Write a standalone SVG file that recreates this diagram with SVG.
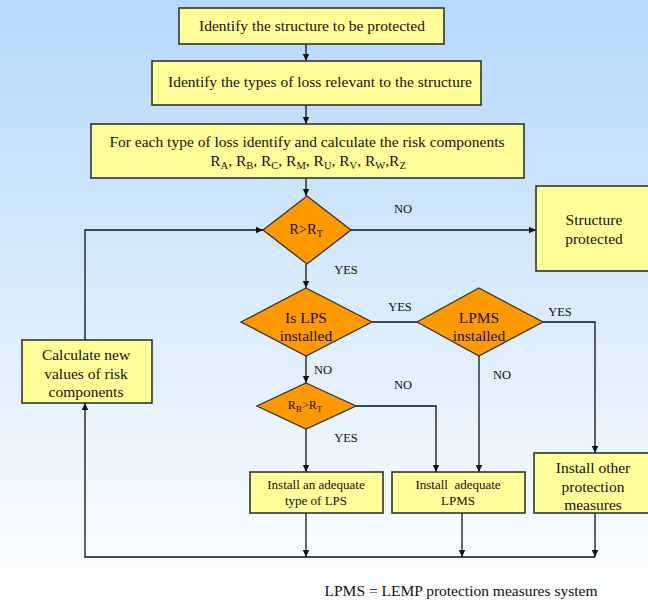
<svg xmlns="http://www.w3.org/2000/svg" width="648" height="602" viewBox="0 0 648 602">
<defs>
<linearGradient id="bg" x1="0" y1="0" x2="0" y2="1">
<stop offset="0" stop-color="#b5d9fb"/>
<stop offset="0.55" stop-color="#ddeefc"/>
<stop offset="1" stop-color="#ffffff"/>
</linearGradient>
<marker id="arr" markerWidth="8" markerHeight="8" refX="7" refY="4" orient="auto" markerUnits="userSpaceOnUse">
<path d="M0,0.8 L7,4 L0,7.2 Z" fill="#111"/>
</marker>
<style>
.box{fill:#ffff99;stroke:#333;stroke-width:1.6}
.dia{fill:#ff9900;stroke:#333;stroke-width:1.3}
.t{fill:#111;text-anchor:middle}
.lbl{fill:#111;font-size:12.5px;text-anchor:middle}
.c{fill:none;stroke:#111;stroke-width:1.3}
.ca{fill:none;stroke:#111;stroke-width:1.3;marker-end:url(#arr)}
</style>
</defs>
<rect x="0" y="0" width="648" height="602" fill="url(#bg)"/>

<g id="connectors">
<line class="ca" x1="306" y1="44" x2="306" y2="61"/>
<line class="ca" x1="306" y1="105" x2="306" y2="124"/>
<line class="ca" x1="306" y1="178" x2="306" y2="196"/>
<line class="ca" x1="351" y1="230" x2="536" y2="230"/>
<line class="ca" x1="306" y1="264" x2="306" y2="288"/>
<line class="c" x1="372" y1="322" x2="417" y2="322"/>
<polyline class="ca" points="543,322 595,322 595,453"/>
<line class="ca" x1="306" y1="356" x2="306" y2="383"/>
<polyline class="ca" points="356,406 436,406 436,472"/>
<line class="ca" x1="479" y1="356" x2="479" y2="472"/>
<line class="ca" x1="306" y1="429" x2="306" y2="472"/>
<line class="ca" x1="306" y1="513" x2="306" y2="557"/>
<line class="ca" x1="462" y1="513" x2="462" y2="557"/>
<line class="ca" x1="595" y1="513" x2="595" y2="557"/>
<polyline class="ca" points="595,557 85,557 85,403"/>
<polyline class="ca" points="85,340 85,230 263,230"/>
</g>

<g id="labels" font-family="Liberation Serif, Times New Roman, serif">
<text class="lbl" x="403" y="213">NO</text>
<text class="lbl" x="346" y="274">YES</text>
<text class="lbl" x="400" y="311">YES</text>
<text class="lbl" x="560" y="316">YES</text>
<text class="lbl" x="323" y="374">NO</text>
<text class="lbl" x="403" y="389">NO</text>
<text class="lbl" x="502" y="379">NO</text>
<text class="lbl" x="346" y="442">YES</text>
</g>

<g font-family="Liberation Serif, Times New Roman, serif">
<g id="n1">
<rect class="box" x="179" y="8" width="265" height="36"/>
<text class="t" x="312" y="31" font-size="15.5">Identify the structure to be protected</text>
</g>

<g id="n2">
<rect class="box" x="152" y="61" width="329" height="44"/>
<text class="t" x="320" y="87" font-size="15.5">Identify the types of loss relevant to the structure</text>
</g>

<g id="n3">
<rect class="box" x="91" y="124" width="433" height="54"/>
<text class="t" x="307" y="147" font-size="15.5">For each type of loss identify and calculate the risk components</text>
<text class="t" x="308" y="166" font-size="15.5">R<tspan font-size="10.5" dy="3">A</tspan><tspan dy="-3">, R</tspan><tspan font-size="10.5" dy="3">B</tspan><tspan dy="-3">, R</tspan><tspan font-size="10.5" dy="3">C</tspan><tspan dy="-3">, R</tspan><tspan font-size="10.5" dy="3">M</tspan><tspan dy="-3">, R</tspan><tspan font-size="10.5" dy="3">U</tspan><tspan dy="-3">, R</tspan><tspan font-size="10.5" dy="3">V</tspan><tspan dy="-3">, R</tspan><tspan font-size="10.5" dy="3">W</tspan><tspan dy="-3">,R</tspan><tspan font-size="10.5" dy="3">Z</tspan></text>
</g>

<g id="d1">
<polygon class="dia" points="307,196 351,230 307,264 263,230"/>
<text class="t" x="306" y="234" font-size="14.5">R&gt;R<tspan font-size="10" dy="3">T</tspan></text>
</g>

<g id="n4">
<rect class="box" x="536" y="186" width="116" height="85"/>
<text class="t" x="594" y="225" font-size="15.5">Structure</text>
<text class="t" x="594" y="244" font-size="15.5">protected</text>
</g>

<g id="d2">
<polygon class="dia" points="306,288 372,322 306,356 241,322"/>
<text class="t" x="306" y="323" font-size="15.5">Is LPS</text>
<text class="t" x="306" y="341" font-size="15.5">installed</text>
</g>

<g id="d3">
<polygon class="dia" points="479,288 543,322 479,356 417,322"/>
<text class="t" x="479" y="323" font-size="15.5">LPMS</text>
<text class="t" x="479" y="341" font-size="15.5">installed</text>
</g>

<g id="d4">
<polygon class="dia" points="306,383 356,406 306,429 257,406"/>
<text class="t" x="305" y="409" font-size="12">R<tspan font-size="9" dy="3">B</tspan><tspan dy="-3">&gt;R</tspan><tspan font-size="9" dy="3">T</tspan></text>
</g>

<g id="n5">
<rect class="box" x="22" y="340" width="130" height="63"/>
<text class="t" x="86" y="360" font-size="15.5">Calculate new</text>
<text class="t" x="86" y="379" font-size="15.5">values of risk</text>
<text class="t" x="86" y="397" font-size="15.5">components</text>
</g>

<g id="n6">
<rect class="box" x="250" y="472" width="133" height="41"/>
<text class="t" x="316" y="489" font-size="13">Install an adequate</text>
<text class="t" x="316" y="505" font-size="13">type of LPS</text>
</g>

<g id="n7">
<rect class="box" x="392" y="472" width="133" height="41"/>
<text class="t" x="458" y="489" font-size="13" xml:space="preserve">Install  adequate</text>
<text class="t" x="458" y="505" font-size="13">LPMS</text>
</g>

<g id="n8">
<rect class="box" x="534" y="453" width="118" height="60"/>
<text class="t" x="593" y="473" font-size="15.5">Install other</text>
<text class="t" x="593" y="492" font-size="15.5">protection</text>
<text class="t" x="593" y="510" font-size="15.5">measures</text>
</g>

<text class="t" x="461" y="596" font-size="15.5">LPMS = LEMP protection measures system</text>
</g>
</svg>
